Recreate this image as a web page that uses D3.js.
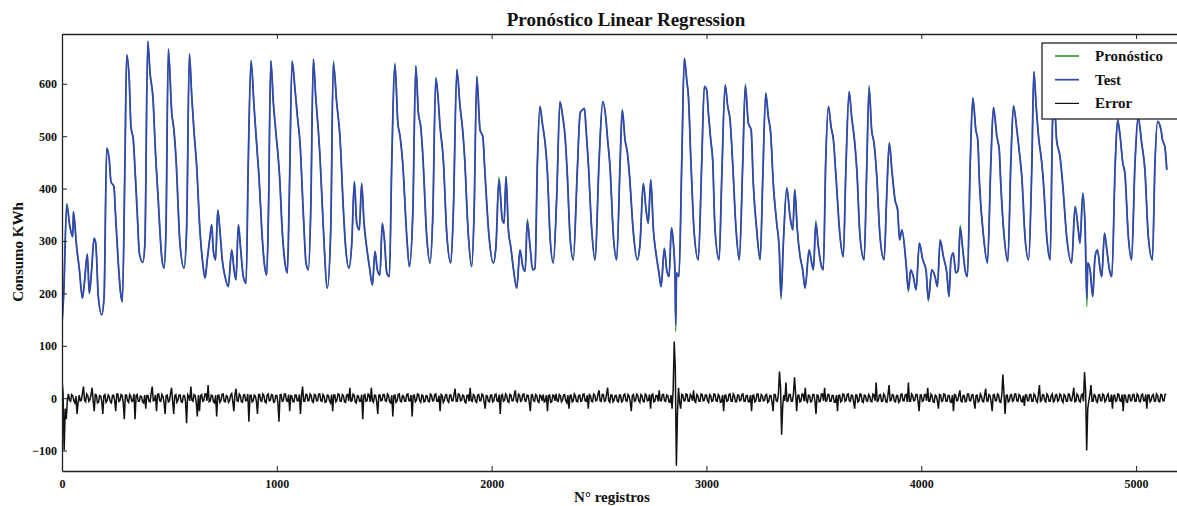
<!DOCTYPE html>
<html><head><meta charset="utf-8">
<script src="https://cdn.jsdelivr.net/npm/d3@7"></script>
<style>
body{margin:0;background:#fff;}
svg text{font-family:"Liberation Serif","Times New Roman",serif;font-weight:bold;fill:#111;}
</style>
</head><body>
<svg id="c" width="1177" height="506"></svg>
<script>
const titleText = "Pronóstico Linear Regression";
const xLabelText = "N° registros";
const yLabelText = "Consumo KWh";
const seriesNames = ["Pronóstico", "Test", "Error"];
const xTicks = [0, 1000, 2000, 3000, 4000, 5000];
const yTicks = [-100, 0, 100, 200, 300, 400, 500, 600];

// record index of each read point of Test / Pronóstico
const testIdx = [
0,8,22,37,50,53,68,81,95,104,118,127,138,149,157,169,185,196,208,220,
228,242,248,262,273,281,293,301,313,321,332,340,351,360,376,386,399,410,425,433,
448,464,475,484,495,511,521,531,549,568,580,593,604,614,627,642,655,666,676,689,
697,704,715,725,735,746,759,774,790,801,810,821,832,844,857,867,880,894,909,917,
930,940,953,961,972,984,996,1012,1026,1038,1049,1058,1071,1085,1096,1108,1124,1136,1147,1158,
1170,1181,1193,1201,1217,1235,1251,1263,1279,1294,1310,1320,1336,1349,1361,1372,1384,1395,1406,1418,
1431,1445,1457,1468,1480,1491,1501,1512,1524,1535,1550,1563,1574,1586,1605,1617,1633,1647,1659,1670,
1679,1698,1713,1726,1740,1749,1760,1775,1791,1810,1822,1838,1853,1865,1873,1892,1907,1918,1931,1946,
1959,1969,1988,2008,2020,2034,2050,2058,2067,2078,2089,2101,2117,2132,2145,2156,2166,2179,2191,2202,
2213,2225,2236,2249,2259,2272,2287,2303,2318,2331,2342,2352,2365,2380,2399,2412,2422,2432,2439,2450,
2466,2481,2501,2517,2531,2540,2551,2567,2582,2598,2608,2621,2632,2641,2660,2678,2691,2706,2719,2729,
2741,2753,2765,2779,2789,2804,2815,2826,2837,2846,2854,2857,2861,2872,2885,2897,2908,2916,2928,2942,
2962,2978,2990,3001,3009,3020,3029,3040,3059,3071,3087,3099,3110,3122,3138,3153,3169,3181,3195,3208,
3218,3234,3250,3262,3276,3288,3299,3311,3327,3339,3347,3358,3374,3389,3402,3411,3423,3436,3448,3459,
3478,3490,3498,3509,3521,3532,3544,3555,3568,3580,3591,3603,3622,3637,3649,3664,3676,3689,3700,3715,
3734,3746,3757,3769,3780,3793,3808,3827,3839,3851,3863,3878,3890,3899,3910,3929,3940,3951,3963,3976,
3991,4007,4022,4033,4049,4064,4075,4088,4103,4119,4129,4138,4149,4161,4172,4181,4192,4204,4215,4228,
4240,4254,4263,4271,4290,4308,4324,4336,4352,4363,4370,4386,4403,4417,4429,4445,4457,4468,4483,4499,
4515,4524,4535,4546,4561,4569,4584,4600,4612,4620,4630,4646,4658,4677,4700,4716,4731,4739,4752,4763,
4771,4775,4786,4798,4809,4820,4833,4840,4853,4864,4876,4887,4903,4914,4926,4938,4948,4964,4979,4995,
5010,5026,5041,5057,5076,5088,5100,5116,5123,5134,5143];

const testVal = [
143,200,369,327,308,356,289,245,191,219,275,200,245,305,296,194,159,194,477,455,
413,404,359,258,200,184,449,655,608,518,493,436,347,277,259,296,681,620,563,487,
378,270,248,321,666,544,512,455,296,248,321,657,576,512,442,321,258,229,264,308,
331,283,264,359,321,264,232,213,283,245,226,331,283,232,219,449,644,557,468,423,
321,264,235,353,644,563,506,429,315,258,239,385,643,588,537,487,347,258,245,359,
647,576,512,461,321,210,321,639,563,499,359,290,248,296,413,334,321,410,334,289,
251,216,280,245,235,334,302,239,232,449,636,528,499,449,308,251,353,634,544,518,
468,308,258,347,611,582,518,455,315,258,359,627,557,512,468,308,251,347,614,512,
499,429,308,258,289,417,340,334,423,321,289,248,210,283,251,242,337,289,245,248,
449,557,525,487,436,308,258,385,566,537,499,429,308,264,436,544,550,553,518,449,
321,264,461,566,537,493,442,308,264,449,550,493,468,429,315,264,296,410,359,334,
417,321,277,239,213,286,245,232,325,296,232,140,239,232,449,649,608,576,449,321,
264,449,595,588,544,493,455,321,264,417,598,557,531,449,321,264,449,596,525,512,
410,321,264,417,582,537,506,410,334,283,194,296,401,347,321,398,321,270,245,210,
283,258,245,334,289,258,245,449,557,518,493,423,308,270,436,585,537,493,436,308,
264,436,592,512,487,423,308,264,385,487,436,378,359,302,321,258,207,245,232,207,
296,264,245,188,245,232,213,302,270,239,194,264,277,239,245,325,289,245,232,449,
573,512,493,410,308,258,449,555,499,474,410,308,261,449,558,512,468,423,308,264,
449,623,557,499,449,410,308,264,537,560,493,461,410,308,258,366,321,296,391,321,
190,258,245,194,270,283,245,232,315,283,245,232,449,531,499,449,429,308,264,449,
535,487,436,308,264,449,528,512,493,480,436];

const pronVal = [
143,200,372,327,308,356,289,245,191,219,275,200,245,305,296,194,159,194,477,455,
413,404,359,258,200,184,449,655,608,518,493,436,347,277,259,296,681,620,563,487,
378,270,248,321,666,544,512,455,296,248,321,657,576,512,442,321,258,229,264,308,
331,283,264,359,321,264,232,213,283,245,226,331,283,232,219,449,644,557,468,423,
321,264,235,353,644,563,506,429,315,258,239,385,643,588,537,487,347,258,245,359,
647,576,512,461,321,210,321,644,563,499,359,290,248,296,413,334,321,410,334,289,
251,216,280,245,235,334,302,239,232,449,640,528,499,449,308,251,353,634,544,518,
468,308,258,347,611,582,518,455,315,258,359,627,557,512,468,308,251,347,614,512,
499,429,308,258,289,422,340,334,423,321,289,248,210,283,251,242,342,289,245,248,
449,557,525,487,436,308,258,385,566,537,499,429,308,264,436,544,550,553,518,449,
321,264,461,566,537,493,442,308,264,449,550,493,468,429,315,264,296,410,359,334,
417,321,277,239,213,286,245,232,325,296,232,127,239,232,449,649,608,576,449,321,
264,449,595,588,544,493,455,321,264,417,598,557,531,449,321,264,449,600,525,512,
410,321,264,417,582,537,506,410,334,283,188,296,401,347,321,398,321,270,245,210,
283,258,245,339,289,258,245,449,557,518,493,423,308,270,436,585,537,493,436,308,
264,436,597,512,487,423,308,264,385,487,436,378,359,302,321,258,203,245,232,207,
296,264,245,185,245,232,213,302,270,239,194,264,277,239,245,330,289,245,232,449,
573,512,493,410,308,258,449,555,499,474,410,308,261,449,558,512,468,423,308,264,
449,623,557,499,449,410,308,264,537,560,493,461,410,308,258,366,321,296,391,321,
175,258,245,194,270,283,245,232,315,283,245,232,449,531,499,449,429,308,264,449,
535,487,436,308,264,449,528,512,493,480,436];

// error sampled every 5 records (index = position * errStep)
const errStep = 5;
const errVal = [
35,10,-100,-20,-40,-3,8,-4,-6,7,5,-5,-9,4,-30,-8,6,-5,-4,9,
22,-4,-7,8,5,-6,-3,6,20,-5,-25,7,6,-9,-8,5,4,-6,-30,5,
7,-8,-5,6,3,-7,-9,5,6,-4,-25,8,8,-6,-4,7,5,-8,-40,6,
6,-5,-8,7,4,-6,-5,8,-40,5,7,-6,-6,4,3,-7,-9,6,-20,5,
5,-6,-7,9,22,-5,-4,6,-25,7,8,-5,-6,7,3,-8,-30,5,6,-7,
-5,8,20,-6,-30,5,7,-8,-4,6,6,-7,-8,5,5,-6,-48,7,4,-5,
22,-4,-6,7,5,-8,-35,6,-25,5,7,-6,-5,8,8,-5,25,-7,-6,6,
5,-7,-9,6,-35,5,6,-8,-4,7,8,-6,-7,5,3,-8,-5,6,9,-6,
-25,6,18,-5,-6,8,5,-7,-8,6,7,-5,-4,8,-45,5,6,-7,-5,6,
4,-6,-30,7,7,-5,-6,8,5,-7,-9,6,8,-5,-4,7,6,-8,-7,5,
5,-7,-45,6,7,-6,-5,8,8,-5,-6,7,-25,5,4,-7,-7,6,6,-5,
-5,7,-30,5,22,-6,-6,7,7,-5,-4,8,5,-6,-8,7,6,-5,-5,8,
8,-5,-6,7,4,-8,-7,6,5,-5,-9,7,-25,6,6,-7,-4,8,7,-6,
-6,7,5,-7,-8,6,7,-5,20,-6,-5,8,6,-7,-9,5,4,-6,-6,7,
-40,5,7,-6,-5,8,6,-7,20,-5,-8,6,5,-7,-30,6,6,-5,-4,7,
7,-5,-6,8,5,-7,-9,6,-35,5,6,-8,-5,7,8,-6,-7,5,4,-6,
-6,7,8,-5,-5,6,-35,5,6,-7,-4,8,7,-5,-8,6,5,-7,-6,5,
4,-6,-7,8,6,-5,-5,7,8,-6,-6,5,-25,7,5,-8,-4,6,7,-5,
-8,6,6,-5,-5,7,18,-6,-6,8,7,-5,-4,6,5,-7,-9,5,6,-6,
20,-5,-6,7,5,-6,-8,6,7,-5,-5,8,6,-7,-20,5,4,-6,-7,6,
6,-7,-5,6,8,-5,-6,7,-30,5,7,-6,-4,8,5,-6,-8,7,6,-5,
-5,6,15,-5,-7,8,6,-6,-4,7,8,-5,-6,6,5,-7,-25,6,7,-5,
-6,7,5,-6,-8,6,4,-5,7,-7,-5,6,-25,5,6,-8,-7,6,5,-5,
8,-5,-6,7,5,-7,-4,6,7,-5,-9,6,-20,5,6,-7,-5,8,4,-6,
-7,5,6,-6,-5,7,8,-5,-6,6,-20,7,5,-6,-7,8,6,-5,-4,7,
15,-5,-6,7,7,-6,-5,8,20,-5,-8,6,6,-7,-4,5,5,-6,-7,6,
6,-7,-5,6,8,-5,-6,7,4,-6,-25,5,7,-6,-5,8,6,-5,-8,7,
5,-6,-7,8,6,-5,-4,7,-20,6,8,-7,-6,5,5,-6,15,-5,-5,7,
7,-5,-6,6,5,-7,-8,6,-20,15,108,55,-129,-30,20,-8,-20,7,6,-5,
-5,8,7,-6,-6,7,4,-5,15,-6,-8,7,5,-6,-6,8,7,-5,-4,6,
6,-5,-8,7,5,-6,-5,8,7,-5,-6,7,4,-8,-7,6,-25,5,6,-6,
-5,7,8,-6,-6,8,5,-7,-7,6,6,-5,-4,7,8,-6,-6,5,5,-7,
-7,6,-25,5,6,-7,-5,8,8,-6,-6,7,5,-5,-4,6,7,-8,-6,5,
5,-6,-25,7,7,-5,-6,8,51,20,-70,-15,6,-5,30,-6,-5,7,7,-6,
-6,8,40,10,-25,5,6,-7,-5,8,7,-6,20,-5,-8,6,5,-7,-6,7,
7,-5,-30,6,5,-7,-6,8,8,-5,20,-6,-5,7,7,-6,-6,5,5,-8,
-8,6,-25,5,6,-7,-5,8,7,-6,-4,7,8,-5,-6,6,5,-7,-20,6,
6,-7,-5,8,7,-6,-8,6,5,-5,-6,7,4,-6,-7,8,6,-5,30,-6,
-5,6,7,-6,-6,8,5,-7,-8,6,25,-5,-4,7,6,-6,-7,5,5,-8,
-6,7,8,-5,-5,6,7,-7,30,-6,-6,8,5,-5,-4,7,7,-6,-25,6,
6,-6,-5,7,7,-5,20,-6,-6,8,5,-7,-8,6,4,-5,-20,7,6,-6,
-5,8,7,-6,-6,5,5,-7,-8,6,-25,7,6,-5,-4,6,15,-6,-7,5,
5,-7,-6,8,8,-5,-5,6,7,-6,-20,5,6,-7,-5,8,4,-6,-7,6,
18,-5,-6,7,5,-6,-25,6,7,-5,-5,8,6,-7,-8,6,45,10,-30,5,
6,-7,-5,6,7,-6,-4,8,8,-5,-6,7,5,-6,-7,5,-15,6,6,-5,
-5,7,7,-6,-6,8,5,-5,-8,6,25,-6,-4,7,6,-5,-7,8,5,-6,
-6,5,8,-7,-5,6,7,-6,-4,8,6,-5,-8,7,5,-6,-6,8,7,-5,
-5,6,20,-7,-6,8,5,-5,-7,6,8,-6,50,15,-100,-20,-5,7,25,-6,
-6,7,5,-6,-8,6,7,-5,-5,8,6,-7,-4,5,8,-6,-6,7,-20,5,
6,-6,-5,8,7,-5,-6,7,-25,6,5,-7,-8,6,6,-5,-4,7,7,-6,
-6,8,5,-6,-7,6,8,-5,-5,7,-20,6,6,-7,-4,5,7,-6,-6,8,
5,-6,-7,7,6,-5,-5,7,8];

const colors = {"Pronóstico": "#3a9a3a", "Test": "#3346b2", "Error": "#111111"};

const m = {left: 62, top: 34, right: 1190, bottom: 471};
const svg = d3.select("#c");

const x = d3.scaleLinear().domain([0, 5251]).range([m.left, m.right]);
const y = d3.scaleLinear().domain([-139, 695]).range([m.bottom, m.top]);

svg.append("defs").append("clipPath").attr("id", "clip")
  .append("rect").attr("x", m.left).attr("y", m.top)
  .attr("width", m.right - m.left).attr("height", m.bottom - m.top);

const plot = svg.append("g").attr("clip-path", "url(#clip)");

const smooth = d3.line().x(d => x(d[0])).y(d => y(d[1])).curve(d3.curveMonotoneX);
const straight = d3.line().x(d => x(d[0])).y(d => y(d[1]));

const pronData = testIdx.map((d, i) => [d, pronVal[i]]).filter(d => d[1] !== undefined);
const testData = testIdx.map((d, i) => [d, testVal[i]]);
const errData = errVal.map((v, i) => [i * errStep, v]);

plot.append("path").datum(pronData).attr("d", smooth)
  .attr("fill", "none").attr("stroke", colors["Pronóstico"]).attr("stroke-width", 1.4)
  .attr("stroke-linejoin", "round");
plot.append("path").datum(testData).attr("d", smooth)
  .attr("fill", "none").attr("stroke", colors["Test"]).attr("stroke-width", 1.8)
  .attr("stroke-linejoin", "round");
plot.append("path").datum(errData).attr("d", straight)
  .attr("fill", "none").attr("stroke", colors["Error"]).attr("stroke-width", 1.5)
  .attr("stroke-linejoin", "miter");

// axes
const axisColor = "#222";
const gx = svg.append("g").attr("transform", `translate(0,${m.bottom})`)
  .call(d3.axisBottom(x).tickValues(xTicks).tickSizeInner(-5).tickSizeOuter(0).tickPadding(8).tickFormat(d3.format("d")));
const gxt = svg.append("g").attr("transform", `translate(0,${m.top})`)
  .call(d3.axisTop(x).tickValues(xTicks).tickSizeInner(-5).tickSizeOuter(0).tickFormat(""));
const gy = svg.append("g").attr("transform", `translate(${m.left},0)`)
  .call(d3.axisLeft(y).tickValues(yTicks).tickSizeInner(-5).tickSizeOuter(0).tickPadding(5)
    .tickFormat(d => d < 0 ? "\u2212" + Math.abs(d) : String(d)));

[gx, gxt, gy].forEach(g => {
  g.select(".domain").attr("stroke", axisColor).attr("stroke-width", 1.3);
  g.selectAll(".tick line").attr("stroke", axisColor).attr("stroke-width", 1);
  g.selectAll(".tick text").style("font-family", '"Liberation Serif", serif')
    .style("font-weight", "bold").style("font-size", "12px").attr("fill", "#111");
});

// title & labels
svg.append("text").attr("x", 626).attr("y", 26).attr("text-anchor", "middle")
  .style("font-size", "19px").text(titleText);
svg.append("text").attr("x", 612).attr("y", 502).attr("text-anchor", "middle")
  .style("font-size", "15px").text(xLabelText);
svg.append("text").attr("transform", "translate(23,252) rotate(-90)").attr("text-anchor", "middle")
  .style("font-size", "15px").text(yLabelText);

// legend
const lg = svg.append("g");
lg.append("rect").attr("x", 1042).attr("y", 43).attr("width", 150).attr("height", 76)
  .attr("fill", "#fff").attr("stroke", "#111").attr("stroke-width", 1.2);
seriesNames.forEach((name, i) => {
  const yy = 56 + i * 23.7;
  lg.append("line").attr("x1", 1055).attr("x2", 1079).attr("y1", yy).attr("y2", yy)
    .attr("stroke", colors[name]).attr("stroke-width", name === "Error" ? 1.2 : 1.7);
  lg.append("text").attr("x", 1095).attr("y", yy + 5).style("font-size", "15px").text(name);
});
</script>
</body></html>
